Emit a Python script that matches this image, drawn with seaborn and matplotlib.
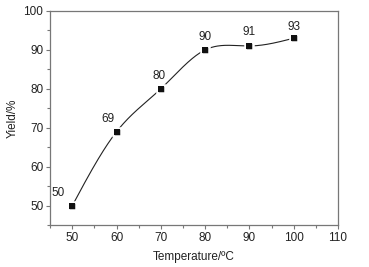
import numpy as np
import pandas as pd
import matplotlib
matplotlib.use("Agg")
import matplotlib.pyplot as plt
import seaborn as sns
from matplotlib.ticker import MultipleLocator

temperature = [50, 60, 70, 80, 90, 100]
yield_pct = [50, 69, 80, 90, 91, 93]
labels = ["50", "69", "80", "90", "91", "93"]

sns.set_style("ticks")
plt.rcParams['font.family'] = ['Liberation Sans', 'DejaVu Sans']


def natural_spline(x, y, n=300):
    # 画平滑曲线用的三次样条
    x = np.asarray(x, float)
    y = np.asarray(y, float)
    k = len(x)
    h = np.diff(x)
    A = np.zeros((k, k))
    b = np.zeros(k)
    A[0, 0] = A[-1, -1] = 1
    for i in range(1, k - 1):
        A[i, i - 1] = h[i - 1]
        A[i, i] = 2 * (h[i - 1] + h[i])
        A[i, i + 1] = h[i]
        b[i] = 6 * ((y[i + 1] - y[i]) / h[i] - (y[i] - y[i - 1]) / h[i - 1])
    M = np.linalg.solve(A, b)
    xs = np.linspace(x[0], x[-1], n)
    idx = np.clip(np.searchsorted(x, xs) - 1, 0, k - 2)
    x0, x1 = x[idx], x[idx + 1]
    hh = x1 - x0
    ys = (M[idx] * (x1 - xs) ** 3 / (6 * hh) + M[idx + 1] * (xs - x0) ** 3 / (6 * hh)
          + (y[idx] / hh - M[idx] * hh / 6) * (x1 - xs)
          + (y[idx + 1] / hh - M[idx + 1] * hh / 6) * (xs - x0))
    return xs, ys


df = pd.DataFrame({'T': temperature, 'Y': yield_pct})
xs, ys = natural_spline(temperature, yield_pct)
curve = pd.DataFrame({'T': xs, 'Y': ys})

fig, ax = plt.subplots(figsize=(3.69, 2.67), dpi=100)
fig.subplots_adjust(left=0.136, right=0.916, top=0.959, bottom=0.157)

sns.lineplot(data=curve, x='T', y='Y', ax=ax, color='#222222', lw=0.8, sort=False)
sns.scatterplot(data=df, x='T', y='Y', ax=ax, marker='s', s=26, color='#111111',
                edgecolor='white', linewidth=1.8, zorder=3)
ax.scatter(temperature, yield_pct, marker='s', s=15, color='#111111', lw=0, zorder=4)

offsets = [(-10, 5), (-6, 5), (-1, 5), (0, 5), (0, 6), (0, 4)]
for xv, yv, lab, off in zip(temperature, yield_pct, labels, offsets):
    ax.annotate(lab, (xv, yv), xytext=off, textcoords='offset points',
                ha='center', va='bottom', fontsize=8.5, color='#222222')

ax.set_xlim(45, 110)
ax.set_ylim(45, 100)
ax.xaxis.set_major_locator(MultipleLocator(10))
ax.xaxis.set_minor_locator(MultipleLocator(5))
ax.yaxis.set_major_locator(MultipleLocator(10))
ax.yaxis.set_minor_locator(MultipleLocator(5))
ax.tick_params(which='major', length=3, width=0.8, color='#777777', labelsize=8.5,
               labelcolor='#222222', direction='out', pad=2)
ax.tick_params(which='minor', length=2, width=0.8, color='#777777', direction='out')
for s in ax.spines.values():
    s.set_color('#777777')
    s.set_linewidth(0.9)

ax.set_xlabel('Temperature/ºC', fontsize=8.5, color='#222222', labelpad=5)
ax.set_ylabel('Yield/%', fontsize=8.5, color='#222222', labelpad=3)

fig.savefig('out.png', dpi=100)
